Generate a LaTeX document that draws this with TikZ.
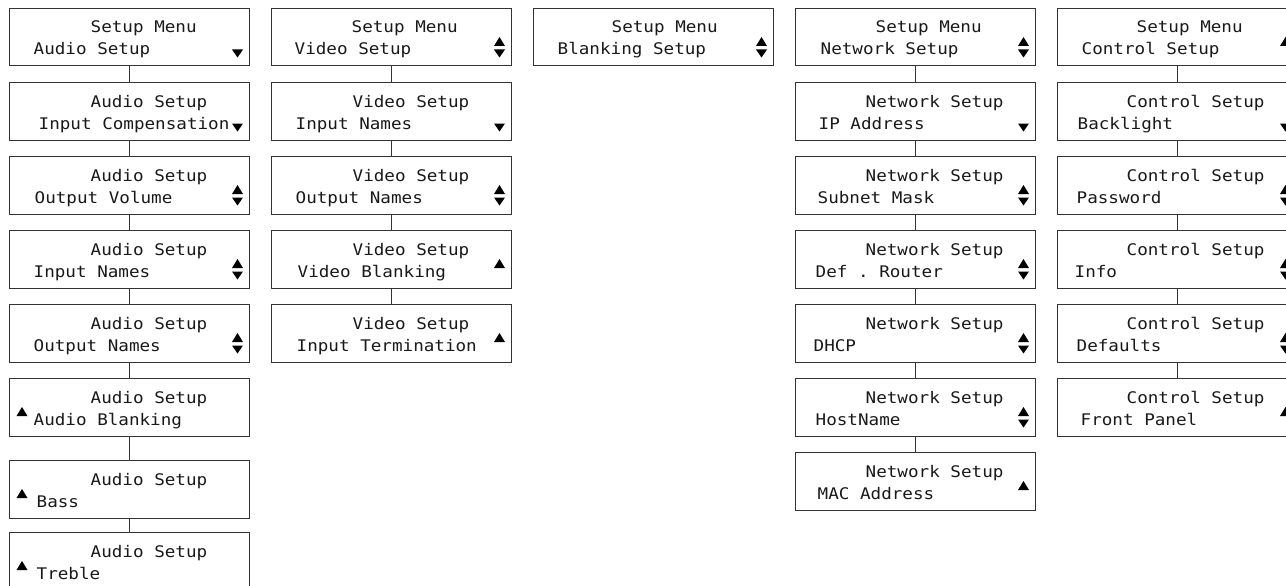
\documentclass[tikz,border=0pt]{standalone}
\usepackage{fontspec}
\newfontfamily\lcdfont[FakeStretch=1.1]{DejaVu Sans Mono}
\frenchspacing
\tikzset{
  lcd/.style={draw=black!80, line width=0.9pt, minimum width=240pt, minimum height=57.5pt, inner sep=0pt, anchor=north west},
  txt/.style={anchor=base west, inner sep=0pt, text=black!90, font=\lcdfont\fontsize{16}{16}\selectfont\frenchspacing},
  link/.style={draw=black!80, line width=0.9pt},
  tri/.style={fill=black}
}
% name, x, top, header x, line x, header, line
\newcommand\lcdbox[7]{%
  \node[lcd] (#1) at (#2,#3) {};
  \node[txt] (#1h) at (#4-1.5,#3+25) {#6};
  \node[txt] (#1l) at (#5-1.5,#3+47) {#7};
}
% centre x, box top
\newcommand\aup[2]{\fill[tri] (#1-5.5,#2+38) -- (#1+5.5,#2+38) -- (#1,#2+29) -- cycle;}
\newcommand\adn[2]{\fill[tri] (#1-5.5,#2+41.5) -- (#1+5.5,#2+41.5) -- (#1,#2+49.5) -- cycle;}
\newcommand\aud[2]{\aup{#1}{#2}\adn{#1}{#2}}
\begin{document}
\begin{tikzpicture}[x=1pt,y=-1pt]
\path[use as bounding box, clip] (0,0) rectangle (1286,586);
% column 1
\lcdbox{c1a}{9}{8}{92}{35}{Setup Menu}{Audio Setup}
\lcdbox{c1b}{9}{82}{92}{40}{Audio Setup}{Input Compensation}
\lcdbox{c1c}{9}{156}{92}{36}{Audio Setup}{Output Volume}
\lcdbox{c1d}{9}{230}{92}{35}{Audio Setup}{Input Names}
\lcdbox{c1e}{9}{304}{92}{35}{Audio Setup}{Output Names}
\lcdbox{c1f}{9}{378}{92}{35}{Audio Setup}{Audio Blanking}
\lcdbox{c1g}{9}{460}{92}{38}{Audio Setup}{Bass}
\lcdbox{c1h}{9}{532}{92}{38}{Audio Setup}{Treble}
\adn{237.5}{8}
\adn{237.5}{82}
\aud{237.5}{156}
\aud{237.5}{230}
\aud{237.5}{304}
\aup{22}{378}
\aup{22}{460}
\aup{22}{532}
\foreach \a/\b in {c1a/c1b,c1b/c1c,c1c/c1d,c1d/c1e,c1e/c1f,c1f/c1g,c1g/c1h}
  \draw[link] (\a.south) -- (\b.north);
% column 2
\lcdbox{c2a}{271}{8}{353}{296}{Setup Menu}{Video Setup}
\lcdbox{c2b}{271}{82}{354}{297}{Video Setup}{Input Names}
\lcdbox{c2c}{271}{156}{354}{297}{Video Setup}{Output Names}
\lcdbox{c2d}{271}{230}{354}{299}{Video Setup}{Video Blanking}
\lcdbox{c2e}{271}{304}{354}{298}{Video Setup}{Input Termination}
\aud{499.5}{8}
\adn{499.5}{82}
\aud{499.5}{156}
\aup{499.5}{230}
\aup{499.5}{304}
\foreach \a/\b in {c2a/c2b,c2b/c2c,c2c/c2d,c2d/c2e}
  \draw[link] (\a.south) -- (\b.north);
% column 3
\lcdbox{c3a}{533}{8}{613}{559}{Setup Menu}{Blanking Setup}
\aud{761.5}{8}
% column 4
\lcdbox{c4a}{795}{8}{877}{822}{Setup Menu}{Network Setup}
\lcdbox{c4b}{795}{82}{867}{820}{Network Setup}{IP Address}
\lcdbox{c4c}{795}{156}{867}{819}{Network Setup}{Subnet Mask}
\lcdbox{c4d}{795}{230}{867}{817}{Network Setup}{Def . Router}
\lcdbox{c4e}{795}{304}{867}{815}{Network Setup}{DHCP}
\lcdbox{c4f}{795}{378}{867}{817}{Network Setup}{HostName}
\lcdbox{c4g}{795}{452}{867}{819}{Network Setup}{MAC Address}
\aud{1023.5}{8}
\adn{1023.5}{82}
\aud{1023.5}{156}
\aud{1023.5}{230}
\aud{1023.5}{304}
\aud{1023.5}{378}
\aup{1023.5}{452}
\foreach \a/\b in {c4a/c4b,c4b/c4c,c4c/c4d,c4d/c4e,c4e/c4f,c4f/c4g}
  \draw[link] (\a.south) -- (\b.north);
% column 5
\lcdbox{c5a}{1057}{8}{1138}{1083}{Setup Menu}{Control Setup}
\lcdbox{c5b}{1057}{82}{1128}{1079}{Control Setup}{Backlight}
\lcdbox{c5c}{1057}{156}{1128}{1078}{Control Setup}{Password}
\lcdbox{c5d}{1057}{230}{1128}{1076}{Control Setup}{Info}
\lcdbox{c5e}{1057}{304}{1128}{1078}{Control Setup}{Defaults}
\lcdbox{c5f}{1057}{378}{1128}{1082}{Control Setup}{Front Panel}
\aup{1285.5}{8}
\adn{1285.5}{82}
\aud{1285.5}{156}
\aud{1285.5}{230}
\aud{1285.5}{304}
\aup{1285.5}{378}
\foreach \a/\b in {c5a/c5b,c5b/c5c,c5c/c5d,c5d/c5e,c5e/c5f}
  \draw[link] (\a.south) -- (\b.north);
\end{tikzpicture}
\end{document}
